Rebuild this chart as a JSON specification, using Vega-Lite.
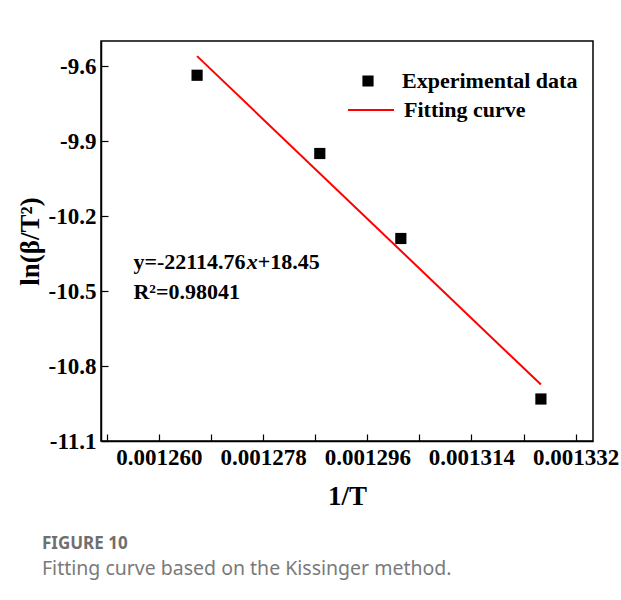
{
  "$schema": "https://vega.github.io/schema/vega-lite/v6.json",
  "width": 492,
  "height": 400,
  "autosize": {"type": "none"},
  "padding": {"left": 101, "top": 41, "right": 28, "bottom": 159},
  "background": "white",
  "datasets": {
    "experimental": [
      {"inv_T": 0.0012666, "ln_beta_T2": -9.637},
      {"inv_T": 0.0012878, "ln_beta_T2": -9.950},
      {"inv_T": 0.0013018, "ln_beta_T2": -10.290},
      {"inv_T": 0.0013260, "ln_beta_T2": -10.932}
    ],
    "fit": [
      {"inv_T": 0.0012666, "ln_beta_T2": -9.5606},
      {"inv_T": 0.0013260, "ln_beta_T2": -10.8742}
    ]
  },
  "title": {
    "text": "FIGURE 10",
    "subtitle": "Fitting curve based on the Kissinger method.",
    "orient": "bottom",
    "anchor": "start",
    "frame": "group",
    "dx": -59,
    "offset": 27,
    "font": "Noto Sans",
    "fontSize": 17,
    "fontWeight": "bold",
    "color": "#6f6f6f",
    "subtitleFont": "Noto Sans",
    "subtitleFontSize": 19.5,
    "subtitleColor": "#7a7a7a",
    "subtitlePadding": 7
  },
  "config": {
    "view": {"stroke": "black", "strokeWidth": 1.5},
    "axis": {
      "domainColor": "black",
      "domainWidth": 1.5,
      "tickColor": "black",
      "tickWidth": 1.2,
      "tickSize": -7,
      "grid": false,
      "labelFont": "Liberation Serif",
      "labelFontWeight": "bold",
      "labelFontSize": 23,
      "labelColor": "black",
      "titleFont": "Liberation Serif",
      "titleFontWeight": "bold",
      "titleFontSize": 27,
      "titleColor": "black",
      "labelOverlap": false,
      "labelFlush": false
    },
    "legend": {
      "orient": "none",
      "title": null,
      "padding": 0,
      "clipHeight": 22,
      "labelFont": "Liberation Serif",
      "labelFontWeight": "bold",
      "labelFontSize": 22,
      "labelColor": "black",
      "labelLimit": 0
    }
  },
  "layer": [
    {
      "data": {"name": "experimental"},
      "mark": {"type": "point", "shape": "square", "filled": true, "size": 125, "opacity": 1, "color": "black"},
      "encoding": {
        "x": {
          "field": "inv_T",
          "type": "quantitative",
          "title": "1/T",
          "scale": {"domain": [0.00125, 0.001335], "nice": false, "zero": false},
          "axis": {
            "values": [0.001251, 0.00126, 0.001269, 0.001278, 0.001287, 0.001296, 0.001305, 0.001314, 0.001323, 0.001332],
            "labelExpr": "round(datum.value * 1e6) % 18 == 0 ? format(datum.value, '.6f') : ''",
            "labelPadding": 12,
            "titlePadding": 14,
            "encode": {
              "ticks": {"update": {"y2": {"signal": "round(datum.value * 1e6) % 18 != 0 ? -4 : -7"}}}
            }
          }
        },
        "y": {
          "field": "ln_beta_T2",
          "type": "quantitative",
          "title": "ln(β/T²)",
          "scale": {"domain": [-11.1, -9.5], "nice": false, "zero": false},
          "axis": {
            "values": [-9.6, -9.75, -9.9, -10.05, -10.2, -10.35, -10.5, -10.65, -10.8, -10.95, -11.1],
            "labelExpr": "round(datum.value * 20) % 6 == 0 ? replace(format(datum.value, '.1f'), '−', '-') : ''",
            "labelPadding": 12,
            "titlePadding": 4,
            "encode": {
              "ticks": {"update": {"x2": {"signal": "round(datum.value * 20) % 6 != 0 ? 4 : 7"}}}
            }
          }
        },
        "shape": {
          "datum": "Experimental data",
          "scale": {"domain": ["Experimental data"], "range": ["square"]},
          "legend": {
            "legendX": 256,
            "legendY": 29,
            "symbolSize": 125,
            "symbolFillColor": "black",
            "symbolStrokeWidth": 0,
            "symbolOpacity": 1,
            "labelOffset": 23
          }
        }
      }
    },
    {
      "data": {"name": "fit"},
      "mark": {"type": "line", "strokeWidth": 2},
      "encoding": {
        "x": {"field": "inv_T", "type": "quantitative"},
        "y": {"field": "ln_beta_T2", "type": "quantitative"},
        "color": {
          "datum": "Fitting curve",
          "scale": {"domain": ["Fitting curve"], "range": ["red"]},
          "legend": {
            "legendX": 246,
            "legendY": 58,
            "symbolType": "stroke",
            "symbolSize": 2116,
            "symbolStrokeWidth": 2,
            "labelOffset": 9
          }
        }
      }
    },
    {
      "data": {"values": [{}]},
      "mark": {"type": "text", "text": "y=-22114.76", "align": "left", "baseline": "middle", "font": "Liberation Serif", "fontWeight": "bold", "fontSize": 22, "color": "black"},
      "encoding": {"x": {"datum": 0.0012556}, "y": {"datum": -10.384}}
    },
    {
      "data": {"values": [{}]},
      "mark": {"type": "text", "text": "x", "align": "left", "baseline": "middle", "dx": 113.4, "font": "Liberation Serif", "fontWeight": "bold", "fontStyle": "italic", "fontSize": 22, "color": "black"},
      "encoding": {"x": {"datum": 0.0012556}, "y": {"datum": -10.384}}
    },
    {
      "data": {"values": [{}]},
      "mark": {"type": "text", "text": "+18.45", "align": "left", "baseline": "middle", "dx": 124.4, "font": "Liberation Serif", "fontWeight": "bold", "fontSize": 22, "color": "black"},
      "encoding": {"x": {"datum": 0.0012556}, "y": {"datum": -10.384}}
    },
    {
      "data": {"values": [{}]},
      "mark": {"type": "text", "text": "R²=0.98041", "align": "left", "baseline": "middle", "font": "Liberation Serif", "fontWeight": "bold", "fontSize": 22, "color": "black"},
      "encoding": {"x": {"datum": 0.0012556}, "y": {"datum": -10.504}}
    }
  ]
}
